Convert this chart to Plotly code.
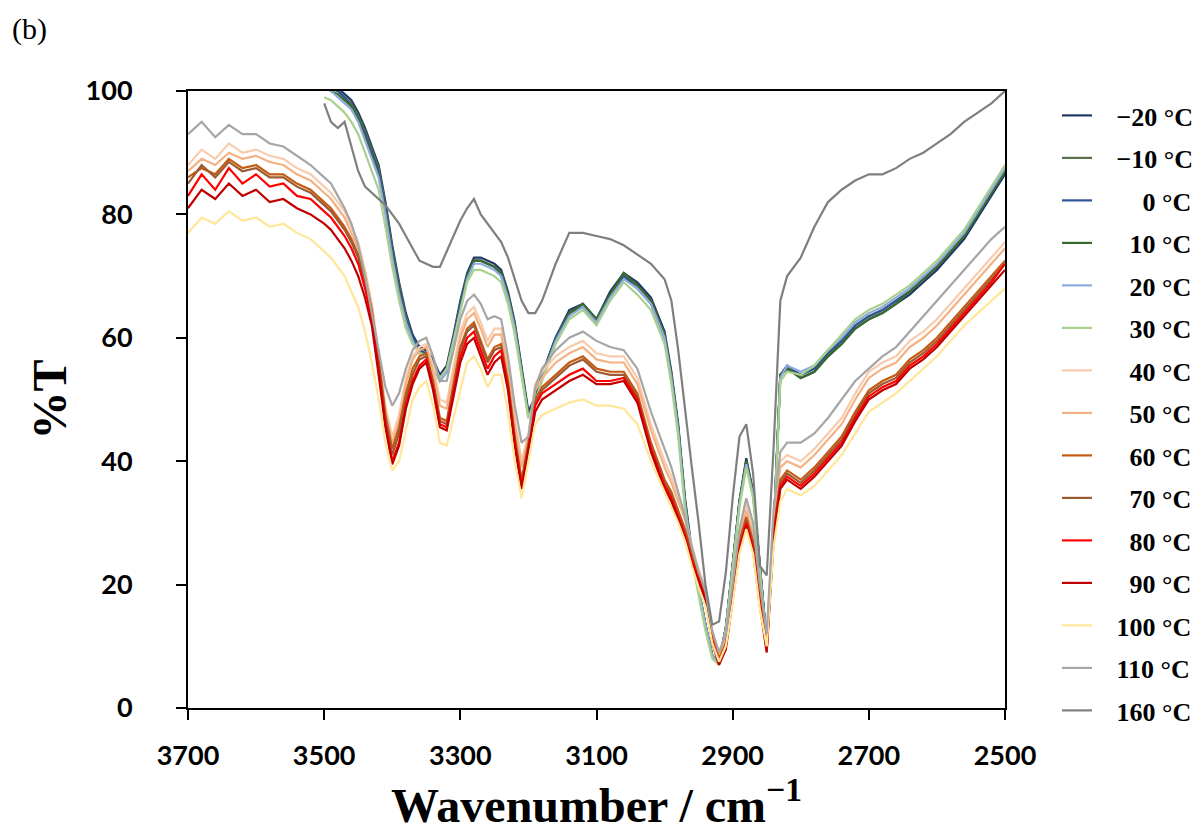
import plotly.graph_objects as go

# Wavenumber grid (cm^-1), descending
WN_FULL = [3700, 3680, 3660, 3640, 3620, 3600, 3580, 3560, 3540, 3520,
           3500, 3490, 3480, 3470, 3460, 3450, 3440, 3430, 3420, 3410,
           3400, 3390, 3380, 3370, 3360, 3350, 3340, 3330, 3320, 3310,
           3300, 3290, 3280, 3270, 3260, 3250, 3240, 3230, 3220, 3210,
           3200, 3190, 3180, 3160, 3140, 3120, 3100, 3080, 3060, 3040,
           3020, 3000, 2990, 2980, 2970, 2960, 2950, 2940, 2930, 2920,
           2910, 2900, 2890, 2880, 2870, 2860, 2850, 2840, 2830, 2820,
           2800, 2780, 2760, 2740, 2720, 2700, 2680, 2660, 2640, 2620,
           2600, 2580, 2560, 2540, 2520, 2500]
WN_SHORT = WN_FULL[10:]

# Low-temperature spectra (start at 3500 cm^-1)
T_M20 = [102, 101, 100.5, 99.5, 98.5, 96.5, 94, 91, 88, 82,
         75, 69, 64, 60.5, 58.5, 58, 56.5, 54, 55.5, 60.5,
         66, 70.5, 73, 73, 72.5, 72, 71, 67.5, 62.5, 55.5,
         48, 50.5, 54,
         60, 64.5, 65.5, 63, 67.5, 70.5, 69, 66.5,
         61, 54.5, 46, 34, 25.5, 19, 13.5, 8.5, 7.5, 13,
         23, 33.5, 40.5, 35, 23, 10.5, 28, 54, 55,
         53.5, 54.5, 57, 59, 61.5, 63, 64, 65.5, 67, 69, 71, 73.5, 76, 79.5, 83, 86.5]
T_M10 = [101.5, 100.5, 100, 99, 98, 96, 93.5, 90.5, 87.5, 81.5,
         74.5, 68.5, 63.5, 60, 58, 57.5, 56, 53.5, 55, 60,
         65.5, 70, 72.5, 72.5, 72, 71.5, 70.5, 67, 62, 55,
         47.5, 50, 54,
         60, 64, 65, 62.5, 67, 70, 68.5, 66,
         60.5, 54, 45.5, 33.5, 25, 19, 13.5, 8.5, 7.5, 13,
         23, 33.5, 40, 35, 23, 10.5, 28, 54, 55,
         54, 55, 57.5, 59.5, 62, 63.5, 64.5, 66, 67.5, 69.5, 71.5, 74, 76.5, 80, 83.5, 87]
T_0 = [101.5, 100.5, 100, 99, 97.5, 95.5, 93, 90, 87, 81,
       74, 68, 63, 60, 58, 57.5, 56, 53.5, 55, 60,
       65.5, 70, 72.5, 72.5, 72, 71.5, 70, 66.5, 61.5, 54.5,
       47.5, 50, 54,
       60, 64, 65.5, 63, 67, 70, 68, 65.5,
       60, 53.5, 45, 33, 25, 19, 13.5, 8.5, 7.5, 13,
       23, 33.5, 40, 35, 23, 10.5, 28, 54, 55.5,
       54, 55, 57.5, 59.5, 62, 63.5, 64.5, 66, 67.5, 69.5, 71.5, 74, 76.5, 80, 83.5, 87]
T_10 = [101, 100, 99.5, 98.5, 97.5, 95.5, 92.5, 89.5, 86.5, 80.5,
        73.5, 67.5, 62.5, 59.5, 57.5, 57, 55.5, 53, 54.5, 59.5,
        65, 70, 72.5, 72.5, 72, 71.5, 70.5, 67, 62, 55,
        47.5, 50, 54,
        59.5, 64, 65.5, 63, 67, 70.5, 68.5, 66,
        60.5, 54, 45.5, 33.5, 25, 19, 13.5, 8.5, 7.5, 13,
        23, 33.5, 40, 35, 23, 10.5, 28, 54, 55,
        53.5, 54.5, 57, 59, 61.5, 63, 64, 65.5, 67.5, 69.5, 71.5, 74, 76.5, 80, 83.5, 87]
T_20 = [100.5, 100, 99, 98, 97, 95, 92, 89, 86, 80,
        73, 67, 62.5, 59.5, 57.5, 57, 55.5, 53, 54.5, 59.5,
        64.5, 69.5, 72, 72, 71.5, 71, 70, 66.5, 61.5, 54.5,
        47, 49.5, 53.5,
        59.5, 63.5, 65, 62.5, 66.5, 69.5, 68, 65.5,
        60, 53.5, 45, 33, 25, 19, 13.5, 8.5, 7.5, 13,
        22.5, 33, 39.5, 34.5, 22.5, 10.5, 28, 53.5, 55.5,
        54.5, 55.5, 58, 60, 62.5, 64, 65, 66.5, 68, 70, 72, 74.5, 77, 80.5, 84, 87.5]
T_30 = [99, 98.5, 97.5, 96.5, 95, 93, 90, 87, 84, 78,
        71.5, 66, 61.5, 59, 57.5, 57, 55.5, 53.5, 55, 59.5,
        64, 69, 71, 71, 70.5, 70, 69, 65.5, 60.5, 53.5,
        47, 49.5, 53,
        59, 63, 64.5, 62, 66, 69, 67, 64.5,
        59, 52.5, 44, 32, 24, 18, 12.5, 8, 7, 12.5,
        22, 32.5, 39, 34, 22, 10, 27, 53, 54.5,
        54, 55.5, 58, 60.5, 63, 64.5, 65.5, 67, 68.5, 70.5, 72.5, 75, 77.5, 81, 84.5, 88]

# High-temperature spectra (full range)
T_40 = [88, 90.5, 89, 91.5, 90, 90.5, 89.5, 89, 87.5, 86.5,
        84.5, 83.5, 82, 80.5, 78, 75.5, 71, 65.5, 57.5, 49,
        44, 47.5, 53.5, 57, 58.5, 59, 55.5, 50, 49.5, 55,
        61, 64, 65, 62.5, 59.5, 61.5, 61.5, 56, 47, 40,
        44.5, 52.5, 54.5,
        57, 58.5, 59.5, 57.5, 57, 57, 53.5, 46,
        40, 37.5, 34, 31, 26.5, 22.5, 19.5, 12.5, 9, 11.5,
        20, 28.5, 33, 28.5, 19, 11, 31, 40, 41,
        40, 42, 44.5, 47, 51, 54.5, 56, 57, 59.5, 61, 63, 65.5, 68, 70.5, 73, 75.5]
T_50 = [87, 89, 88, 90, 89, 89.5, 88.5, 88, 86.5, 85.5,
        83.5, 82.5, 81, 79.5, 77, 74.5, 70.5, 65, 57, 48,
        43, 46.5, 52.5, 56.5, 58, 58.5, 54.5, 49, 48.5, 54,
        60, 63, 64, 61.5, 58.5, 60.5, 60.5, 55, 46, 39,
        44, 51.5, 53.5,
        56, 57.5, 58.5, 56.5, 56, 56, 52.5, 45,
        39, 36.5, 33.5, 30.5, 26, 22, 19, 12, 8.5, 11,
        19.5, 27.5, 32, 28, 18.5, 10.5, 30, 39, 40,
        39, 41, 43.5, 46, 50, 53.5, 55, 56, 58.5, 60, 62, 64.5, 67, 69.5, 72, 74.5]
T_60 = [86, 87.5, 86.5, 89, 87.5, 88, 86.5, 86.5, 85, 84,
        82, 81, 79.5, 78, 76, 73.5, 69.5, 64.5, 56.5, 47.5,
        42, 45.5, 51, 55, 57, 57.5, 53, 47, 46.5, 52.5,
        58.5, 61.5, 62.5, 59.5, 56.5, 58.5, 59, 53, 44, 37,
        43, 50, 52,
        54, 56, 57, 55, 54.5, 54.5, 51, 43,
        37, 35, 32, 29, 25, 21.5, 18.5, 11.5, 8, 10.5,
        19, 27, 31, 27, 18, 10, 28.5, 37, 38.5,
        37, 39, 41.5, 44, 48, 51.5, 53, 54, 56.5, 58, 60, 62.5, 65, 67.5, 70, 72.5]
T_70 = [85, 88, 86, 88.5, 87, 87.5, 86, 86, 84.5, 83.5,
        81.5, 80.5, 79, 77.5, 75.5, 73, 69, 64, 56, 47,
        41, 44.5, 50, 54, 56.5, 57, 52.5, 46.5, 46, 52,
        58, 61, 62, 59, 56, 58, 58.5, 52.5, 43.5, 36.5,
        42.5, 49.5, 51.5,
        53.5, 55.5, 56.5, 54.5, 54, 54, 50.5, 42.5,
        36.5, 34.5, 31.5, 28.5, 24.5, 21, 18, 11, 7.5, 10,
        18.5, 26.5, 30.5, 26.5, 17.5, 9.5, 28, 36.5, 38,
        36.5, 38.5, 41, 43.5, 47.5, 51, 52.5, 53.5, 56, 57.5, 59.5, 62, 64.5, 67, 69.5, 72]
T_80 = [83, 86.5, 84, 87.5, 85, 86.5, 84.5, 85, 83, 82.5,
        80.5, 79.5, 78, 76.5, 74.5, 72, 68, 63, 55, 46,
        40, 43, 49, 53, 55.5, 56.5, 52, 46, 45.5, 51,
        57, 60, 61, 58, 55, 57, 58, 52, 43, 36,
        42, 49, 51,
        52.5, 54, 55, 53, 53, 53.5, 50, 42,
        36, 34, 31, 28, 24, 21, 18, 11, 7.5, 10,
        18, 26, 30, 26, 17, 9.5, 28, 36, 37.5,
        36, 38, 40.5, 43, 47, 50.5, 52, 53, 55.5, 57, 59, 61.5, 64, 66.5, 69, 72]
T_90 = [81, 84, 82.5, 85, 83, 84, 82, 82.5, 81, 80,
        78.5, 77.5, 76, 74.5, 72.5, 70, 66.5, 62, 54, 45.5,
        39.5, 42.5, 48.5, 52.5, 55, 56, 51.5, 45.5, 45, 50.5,
        56, 59, 60, 57, 54, 56, 57, 51.5, 42.5, 35.5,
        41.5, 48, 50,
        51.5, 53, 54, 52.5, 52.5, 53, 49.5, 41.5,
        35.5, 33.5, 30.5, 27.5, 23.5, 20.5, 17.5, 10.5, 7, 9.5,
        17.5, 25.5, 29.5, 25.5, 16.5, 9, 27, 35.5, 37,
        35.5, 37.5, 40, 42.5, 46.5, 50, 51.5, 52.5, 55, 56.5, 58.5, 61, 63.5, 66, 68.5, 71]
T_100 = [77, 79.5, 78.5, 80.5, 79, 79.5, 78, 78.5, 77, 76,
         74, 73, 71.5, 70, 67.5, 65, 61, 56, 50, 43,
         38.5, 40, 45, 50, 52, 53, 49, 43, 42.5, 47,
         52, 56, 57, 55, 52, 54, 54, 48, 40, 34,
         40, 46, 47.5,
         48.5, 49.5, 50, 49, 49, 48.5, 46, 40,
         35, 32.5, 30, 27, 23, 19.5, 16.5, 10.5, 7.5, 10,
         17, 25, 29, 25, 16, 10, 26, 33.5, 35.5,
         34.5, 36, 38.5, 41, 44.5, 48, 49.5, 51, 53, 55, 57, 59.5, 62, 64, 66, 68]
T_110 = [93, 95, 92.5, 94.5, 93, 93, 91.5, 91, 89.5, 88,
         86, 85, 83, 81, 78.5, 75, 70, 64, 58, 52,
         49, 51, 55, 58, 59.5, 60, 57, 53, 53, 58,
         63, 66, 67, 65.5, 63, 63.5, 63, 57, 49, 43,
         44, 52, 55,
         58, 60, 61, 59.5, 58.5, 58, 55, 48,
         42, 39, 35, 31, 26, 22, 19, 12.5, 9, 12,
         20, 29, 34, 30, 20, 12, 32, 41.5, 43,
         43, 44.5, 47, 50, 53, 55, 57, 58.5, 61, 63.5, 66, 68.5, 71, 73.5, 76, 78]
T_160 = [98, 95, 94, 95, 91, 87, 84.5, 83.5, 82.5, 81.5,
         80, 78.5, 76.5, 74.5, 72.5, 72, 71.5, 71.5, 74, 76.5,
         79, 81, 82.5, 80, 78.5, 77, 75.5, 73, 69.5, 66,
         64, 64, 66,
         72, 77, 77, 76.5, 76, 75, 73.5, 72,
         69.5, 66, 58, 48, 39, 30, 20, 13.5, 14, 22,
         34, 44, 46, 38, 23, 21.5, 42, 66, 70,
         73, 78, 82, 84, 85.5, 86.5, 86.5, 87.5, 89, 90, 91.5, 93, 95, 96.5, 98, 100]

LABELS = ["−20 °C", "−10 °C", "0 °C", "10 °C", "20 °C", "30 °C", "40 °C", "50 °C",
          "60 °C", "70 °C", "80 °C", "90 °C", "100 °C", "110 °C", "160 °C"]
PAD = [0, 0, 4, 2, 2, 2, 2, 2, 2, 2, 2, 2, 0, 0, 0]
COLORS = ["#203864", "#55704A", "#2F5597", "#3A6B2C", "#8FAADC", "#A9D18E",
          "#F8CBAD", "#F4B183", "#C55A11", "#9C5A33", "#FF0000", "#C00000",
          "#FFE699", "#A6A6A6", "#7F7F7F"]
SERIES = [T_M20, T_M10, T_0, T_10, T_20, T_30, T_40, T_50, T_60, T_70,
          T_80, T_90, T_100, T_110, T_160]
XS = [WN_SHORT] * 6 + [WN_FULL] * 8 + [WN_SHORT]

X_TICKS = [3700, 3500, 3300, 3100, 2900, 2700, 2500]
Y_TICKS = [0, 20, 40, 60, 80, 100]

for xs, ys, lab in zip(XS, SERIES, LABELS):
    assert len(xs) == len(ys), (lab, len(xs), len(ys))

fig = go.Figure()
for i, (xs, ys, lab, col, pad) in enumerate(zip(XS, SERIES, LABELS, COLORS, PAD)):
    fig.add_trace(go.Scatter(
        x=xs, y=ys, mode="lines", name="&nbsp;" * (pad + 3) + lab,
        legendgroup=f"g{i}",
        line=dict(color=col, width=2.2),
    ))

serif = "Liberation Serif, Times New Roman, serif"
sans = "Lato, Carlito, sans-serif"

fig.update_layout(
    width=1197, height=833,
    margin=dict(l=188, r=192, t=91, b=125),
    paper_bgcolor="white", plot_bgcolor="white",
    showlegend=True,
    legend=dict(
        xref="container", yref="container",
        x=1057 / 1197, y=1 - 92 / 833, xanchor="left", yanchor="top",
        font=dict(family=serif, size=26, color="black", weight="bold"),
        traceorder="grouped", tracegroupgap=5.7, itemwidth=30,
        bgcolor="rgba(0,0,0,0)", borderwidth=0, maxheight=740,
    ),
    xaxis=dict(
        range=[3700, 2500], tickvals=X_TICKS, ticktext=[str(v) for v in X_TICKS],
        showline=True, linecolor="black", linewidth=2, mirror=True,
        ticks="outside", ticklen=10, tickwidth=1.5, tickcolor="black",
        showgrid=False, zeroline=False, automargin=False,
        tickfont=dict(family=sans, size=27, color="black", weight="bold"),
        ticklabelstandoff=13,
        title=dict(text="Wavenumber / cm<sup>−1</sup>", standoff=10,
                   font=dict(family=serif, size=48, color="black", weight="bold")),
    ),
    yaxis=dict(
        range=[0, 100], tickvals=Y_TICKS, ticktext=[str(v) for v in Y_TICKS],
        showline=True, linecolor="black", linewidth=2, mirror=True,
        ticks="outside", ticklen=10, tickwidth=1.5, tickcolor="black",
        showgrid=False, zeroline=False, automargin=False,
        tickfont=dict(family=sans, size=27, color="black", weight="bold"),
        ticklabelstandoff=38,
        title=dict(text="%T", standoff=4,
                   font=dict(family=serif, size=48, color="black", weight="bold")),
    ),
    annotations=[dict(
        text="(b)", xref="paper", yref="paper",
        x=-178 / 817, y=1 + 62 / 617, xanchor="left", yanchor="middle",
        showarrow=False, font=dict(family=serif, size=30, color="black"),
    )],
)

fig.write_html("out.html", config={"displayModeBar": False},
               post_script="document.body.style.margin='0';")
